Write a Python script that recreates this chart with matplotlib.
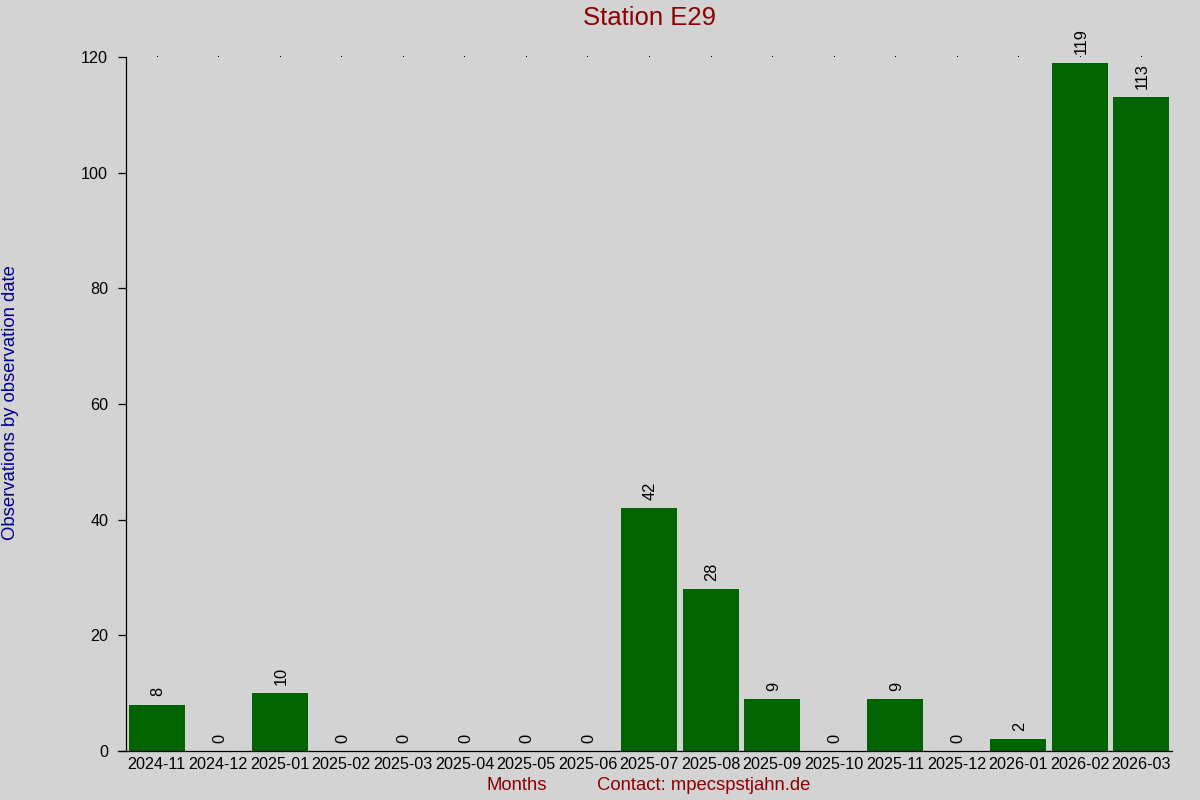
import matplotlib
matplotlib.use("Agg")
import matplotlib.pyplot as plt
import numpy as np

months = ["2024-11", "2024-12", "2025-01", "2025-02", "2025-03", "2025-04",
          "2025-05", "2025-06", "2025-07", "2025-08", "2025-09", "2025-10",
          "2025-11", "2025-12", "2026-01", "2026-02", "2026-03"]
counts = [8, 0, 10, 0, 0, 0, 0, 0, 42, 28, 9, 0, 9, 0, 2, 119, 113]
yticks = [0, 20, 40, 60, 80, 100, 120]

plt.rcParams['font.family'] = ['Liberation Sans', 'DejaVu Sans']

W, H = 1200, 800
fig = plt.figure(figsize=(12, 8), dpi=100, facecolor='#D3D3D3')
L, R, T, B = 126, 1172, 57, 751
ax = fig.add_axes([L / W, 1 - B / H, (R - L) / W, (B - T) / H])
ax.set_facecolor('#D3D3D3')

x = np.arange(len(months))
bars = ax.bar(x, counts, width=0.91, color='#006400')
ax.set_xlim(-0.5, len(months) - 0.5)
ax.set_ylim(0, 120)

for xi, v in zip(x, counts):
    ax.annotate(str(v), xy=(xi, v), xytext=(1, 6), textcoords='offset points',
                rotation=90, ha='center', va='bottom', fontsize=11.8, color='black')

ax.plot(x, [120] * len(x), linestyle='none', marker=',',
        color='black', clip_on=False)

for s in ['top', 'right']:
    ax.spines[s].set_visible(False)
ax.spines['bottom'].set_visible(False)
ax.spines['left'].set_linewidth(0.9)
ax.plot([-8 / (R - L), 1], [0, 0], transform=ax.transAxes, clip_on=False,
        color='black', lw=0.9)

ax.set_xticks(x)
ax.set_xticklabels(months, fontsize=11.6)
ax.tick_params(axis='x', length=0, pad=4.5)
ax.set_yticks(yticks)
ax.set_yticklabels([str(t) for t in yticks], fontsize=11.6)
ax.tick_params(axis='y', length=5.8, width=0.9, pad=7)

fig.text(649 / W, 1 - 18 / H, "Station E29", ha='center', va='center',
         fontsize=18.5, color='#8B0000')
fig.text(11 / W, 1 - 403 / H, "Observations by observation date", rotation=90,
         ha='center', va='center', fontsize=13.3, color='#00008B')
fig.text(517 / W, 1 - 786 / H, "Months", ha='center', va='center',
         fontsize=13.3, color='#8B0000')
fig.text(704 / W, 1 - 786 / H, "Contact: mpecspstjahn.de", ha='center',
         va='center', fontsize=13.3, color='#8B0000')

fig.savefig("out.png", dpi=100, facecolor=fig.get_facecolor())
